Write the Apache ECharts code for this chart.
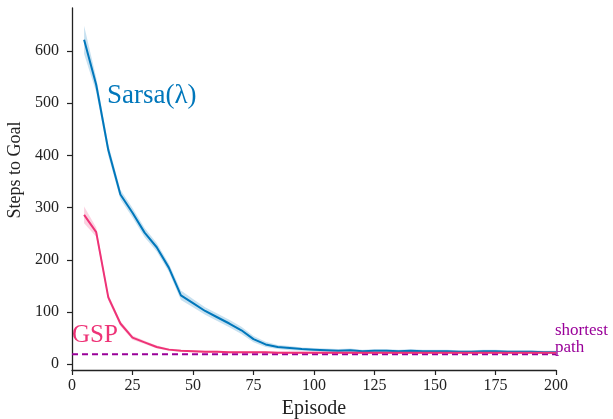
<!DOCTYPE html>
<html>
<head>
<meta charset="utf-8">
<script src="https://cdn.jsdelivr.net/npm/echarts@6/dist/echarts.min.js"></script>
<style>
  html, body { margin: 0; padding: 0; background: #fff; }
  #chart { width: 613px; height: 419px; }
</style>
</head>
<body>
<div id="chart"></div>
<script>
var episodes = [5, 10, 15, 20, 25, 30, 35, 40, 45, 50, 55, 60, 65, 70, 75, 80, 85, 90, 95, 100,
	105, 110, 115, 120, 125, 130, 135, 140, 145, 150, 155, 160, 165, 170, 175, 180, 185, 190, 195, 200];
var sarsaMean = [621, 535, 410, 325, 290, 252, 224, 185, 132, 117, 102, 90, 78, 65, 48, 38, 33, 31, 29, 28,
	27, 26, 27, 25, 26, 26, 25, 26, 25, 25, 25, 24, 24, 25, 25, 24, 24, 24, 23, 23];
var sarsaErr = [27, 14, 11, 9, 9, 9, 8, 8, 9, 8, 7, 7, 7, 7, 6, 5, 4, 4, 3, 3,
	3, 3, 3, 3, 3, 3, 3, 3, 3, 3, 3, 3, 3, 3, 3, 3, 3, 3, 3, 3];
var gspMean = [286, 253, 128, 78, 51, 42, 33, 28, 26, 25, 24, 24, 23, 23, 23, 23, 22, 22, 22, 22,
	22, 22, 22, 22, 22, 22, 22, 22, 22, 22, 22, 22, 22, 22, 22, 22, 22, 22, 22, 22];
var gspErr = [16, 9, 6, 5, 4, 3, 3, 2, 2, 2, 2, 2, 2, 2, 2, 2, 2, 2, 2, 2,
	2, 2, 2, 2, 2, 2, 2, 2, 2, 2, 2, 2, 2, 2, 2, 2, 2, 2, 2, 2];
var shortestPath = 19;
var shortestX = [0, 200];
var yTicks = [0, 100, 200, 300, 400, 500, 600];

var serif = '"Liberation Serif", "DejaVu Serif", serif';
var blue = '#0077bb';
var pink = '#ee3377';
var purple = '#990099';

function pairs(xs, ys) {
	return xs.map(function(x, i) { return [x, ys[i]]; });
}

// rows of [x, low, high] for the shaded band
function bandRows(mean, err) {
	return episodes.map(function(x, i) { return [x, mean[i] - err[i], mean[i] + err[i]]; });
}

function bandSeries(rows, color) {
	return {
		type: 'custom',
		data: rows,
		silent: true,
		z: 1,
		renderItem: function(params, api) {
			if (params.dataIndex !== 0) return null;
			var top = [], bottom = [];
			for (var i = 0; i < rows.length; i++) {
				top.push(api.coord([rows[i][0], rows[i][2]]));
				bottom.unshift(api.coord([rows[i][0], rows[i][1]]));
			}
			return {
				type: 'polygon',
				shape: { points: top.concat(bottom) },
				style: { fill: color }
			};
		}
	};
}

var myChart = echarts.init(document.getElementById('chart'));
myChart.setOption({
	animation: false,
	grid: { left: 72, right: 57, top: 8, bottom: 49, outerBoundsMode: 'none', containLabel: false },
	xAxis: {
		type: 'value',
		min: 0,
		max: 200,
		interval: 25,
		name: 'Episode',
		nameLocation: 'middle',
		nameGap: 27,
		nameTextStyle: { fontFamily: serif, fontSize: 20, color: '#222', verticalAlign: 'top' },
		axisLine: { onZero: false, lineStyle: { color: '#222', width: 1.3 } },
		axisTick: { length: 5, lineStyle: { color: '#222', width: 1.2 } },
		axisLabel: { fontFamily: serif, fontSize: 16, color: '#222', margin: 8 },
		splitLine: { show: false }
	},
	yAxis: {
		type: 'value',
		min: -11,
		max: 682,
		name: 'Steps to Goal',
		nameLocation: 'middle',
		nameGap: 46,
		nameTextStyle: { fontFamily: serif, fontSize: 18, color: '#222', padding: [0, 0, 0, 38] },
		axisLine: { show: true, lineStyle: { color: '#222', width: 1.3 } },
		axisTick: { show: true, length: 5, customValues: yTicks, lineStyle: { color: '#222', width: 1.2 } },
		axisLabel: { fontFamily: serif, fontSize: 16, color: '#222', margin: 13, customValues: yTicks },
		splitLine: { show: false }
	},
	series: [
		bandSeries(bandRows(sarsaMean, sarsaErr), 'rgba(0,119,187,0.22)'),
		bandSeries(bandRows(gspMean, gspErr), 'rgba(238,51,119,0.22)'),
		{
			name: 'Sarsa',
			type: 'line',
			data: pairs(episodes, sarsaMean),
			symbol: 'none',
			lineStyle: { color: blue, width: 2 },
			z: 3
		}, {
			name: 'GSP',
			type: 'line',
			data: pairs(episodes, gspMean),
			symbol: 'none',
			lineStyle: { color: pink, width: 2 },
			z: 4
		}, {
			name: 'shortest',
			type: 'line',
			data: pairs(shortestX, [shortestPath, shortestPath]),
			symbol: 'none',
			lineStyle: { color: purple, width: 2, type: [6, 4] },
			z: 2
		}
	],
	graphic: [{
		type: 'text',
		left: 107,
		top: 82,
		style: { text: 'Sarsa(λ)', fill: blue, font: '27px ' + serif }
	}, {
		type: 'text',
		left: 72,
		top: 323,
		style: { text: 'GSP', fill: pink, font: '25px ' + serif }
	}, {
		type: 'text',
		left: 555,
		top: 322,
		style: { text: 'shortest\npath', fill: purple, font: '17px ' + serif, lineHeight: 17 }
	}]
});
</script>
</body>
</html>
